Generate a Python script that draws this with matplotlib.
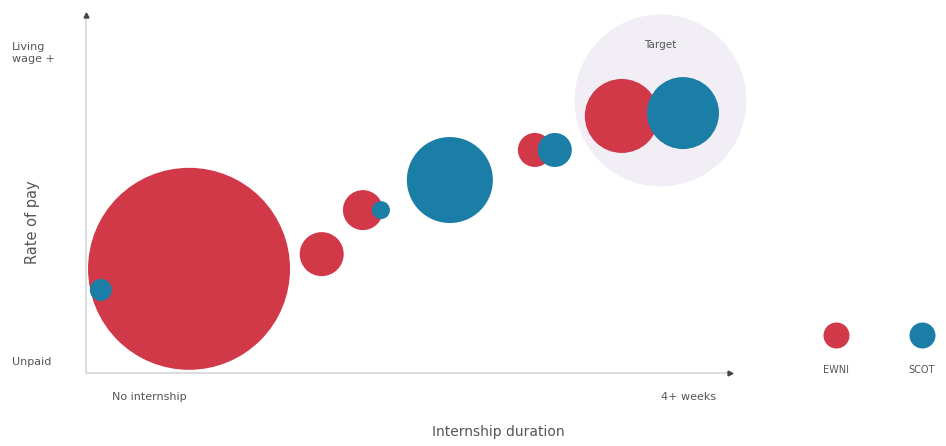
import matplotlib
matplotlib.use("Agg")
import matplotlib.pyplot as plt

# Data (duration 0-100, pay 0-100, bubble radius in px)
groups = ['EWNI', 'EWNI', 'EWNI', 'EWNI', 'EWNI', 'SCOT', 'SCOT', 'SCOT', 'SCOT', 'SCOT']
duration = [16.0, 36.6, 43.0, 69.7, 83.2, 2.3, 45.8, 56.5, 72.8, 92.7]
pay = [29.1, 33.2, 45.5, 62.3, 71.8, 23.2, 45.5, 53.9, 62.3, 72.6]
radius = [101, 22, 20, 17, 37, 11, 9, 43, 17, 36]

target_x, target_y, target_r = 89.1, 76.3, 86

colors = {'EWNI': '#d13848', 'SCOT': '#1b7ea6'}
grey = '#555555'
dpi = 100

def area(r):
    # radius in px -> scatter size in points^2
    d_pt = 2 * r * 72.0 / dpi
    return d_pt ** 2

fig = plt.figure(figsize=(9.46, 4.46), dpi=dpi)
ax = fig.add_axes([86 / 946, 73 / 446, 644 / 946, 358 / 446])
ax.set_xlim(0, 100)
ax.set_ylim(0, 100)
for s in ax.spines.values():
    s.set_visible(False)
ax.set_xticks([])
ax.set_yticks([])
ax.patch.set_alpha(0)

# axis lines with small dark arrow tips
ax.plot([0, 1.0], [0, 0], color='#dddddd', lw=1.5, transform=ax.transAxes, clip_on=False)
ax.plot([0, 0], [0, 1.0], color='#dddddd', lw=1.5, transform=ax.transAxes, clip_on=False)
ax.plot([1.0], [0], marker='>', color='#444444', ms=3.5, transform=ax.transAxes, clip_on=False)
ax.plot([0], [1.0], marker='^', color='#444444', ms=3.5, transform=ax.transAxes, clip_on=False)

# target zone
ax.scatter([target_x], [target_y], s=area(target_r), color='#f2eef6', lw=0, zorder=1, clip_on=False)
ax.text(target_x, 91.5, 'Target', ha='center', va='center', fontsize=7.5, color=grey, zorder=2)

for g in ['EWNI', 'SCOT']:
    xs = [duration[i] for i in range(len(groups)) if groups[i] == g]
    ys = [pay[i] for i in range(len(groups)) if groups[i] == g]
    ss = [area(radius[i]) for i in range(len(groups)) if groups[i] == g]
    ax.scatter(xs, ys, s=ss, color=colors[g], lw=0, zorder=3, clip_on=False)

# legend (dots above labels)
leg_x = [116.5, 129.8]
for lx, g in zip(leg_x, ['EWNI', 'SCOT']):
    ax.scatter([lx], [10.6], s=area(13), color=colors[g], lw=0, clip_on=False)
    ax.text(lx, 0.8, g, ha='center', va='center', fontsize=7, color=grey, clip_on=False)

# axis labels
fig.text(12 / 946, 1 - 53 / 446, 'Living\nwage +', ha='left', va='center',
         fontsize=8, color=grey, linespacing=1.2)
fig.text(12 / 946, 1 - 362 / 446, 'Unpaid', ha='left', va='center', fontsize=8, color=grey)
fig.text(112 / 946, 1 - 397 / 446, 'No internship', ha='left', va='center', fontsize=8, color=grey)
fig.text(716 / 946, 1 - 397 / 446, '4+ weeks', ha='right', va='center', fontsize=8, color=grey)
fig.text(498 / 946, 1 - 432 / 446, 'Internship duration', ha='center', va='center',
         fontsize=10, color=grey)
fig.text(32 / 946, 1 - 222 / 446, 'Rate of pay', ha='center', va='center', rotation=90,
         fontsize=10.5, color=grey)

fig.savefig('out.png', dpi=dpi)
